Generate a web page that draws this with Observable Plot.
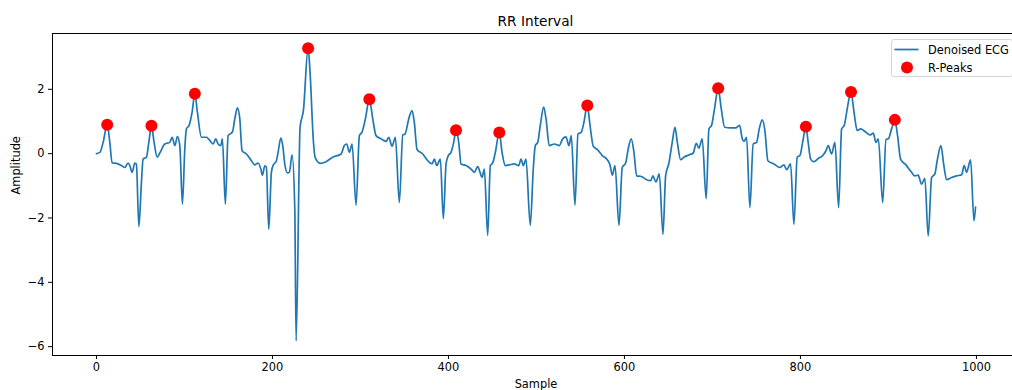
<!DOCTYPE html>
<html><head><meta charset="utf-8">
<script src="https://cdn.jsdelivr.net/npm/d3@7"></script>
<script src="https://cdn.jsdelivr.net/npm/@observablehq/plot@0.6"></script>
<style>
html,body{margin:0;padding:0;background:#fff;overflow:hidden;}
#wrap{position:relative;width:1020px;height:390px;font-family:"DejaVu Sans",sans-serif;color:#000;}
#title{height:28px;box-sizing:border-box;padding-top:13px;line-height:16px;padding-left:52px;padding-right:1px;text-align:center;font-size:13.7px;}
#legend{position:absolute;left:890.5px;top:39px;width:122px;height:38px;box-sizing:border-box;border:1px solid #d6d6d6;border-radius:3px;background:rgba(255,255,255,0.8);}
#legend svg{position:absolute;left:0;top:0;}
</style></head>
<body><div id="wrap"><div id="title">RR Interval</div><div id="chart"></div><div id="legend"></div></div>
<script>
const sample = [0,3.9,7.6,12.2,15.2,17.8,22.7,28.4,32.3,36,37.9,40.6,43.6,45.4,48.2,51.1,53,56.8,59.5,62.5,65.5,69,72,77.7,83.4,86,89.1,92,94.7,97.7,100.4,102.2,105.3,108.7,111.8,114.7,119.3,125,128.8,132.6,135.6,138.2,141.3,143.1,146.5,149.6,151.5,154.5,157.2,160.2,162.9,165.5,170.4,176.1,179.9,183.7,186.8,188.6,191.3,193.1,195.8,198.8,200.7,204.5,206.4,209.5,211.7,214,217,219.2,222.3,225.4,226.9,231.4,235.2,240.5,242.8,246.5,248.4,254.1,260.9,268.5,278,281.7,284.4,287.4,290.5,295,298.8,301.8,305.6,310.1,314,317.7,323.4,329.1,332.2,335.9,339.7,344.2,348.1,350.7,354.9,358.6,361.2,364.3,370.8,376.5,381.4,384,386.7,390.8,394.2,397.3,399.9,402.9,406,408.6,411.7,414.3,420,425.7,429.4,433.3,435.9,438.2,440.8,444.6,447.6,450.3,453.3,457.8,460.9,464.6,469.2,474.8,479.8,482.5,485.1,488.1,493,496.4,498.7,501.4,504.4,508.2,510.9,514.6,520.3,526,529.8,533.5,537,539.6,543.8,547.2,551,554,557.8,560.9,564.6,569.1,574.8,580.5,583.6,586.2,589.3,593.8,597.5,601.4,604.3,607.7,610.8,613.9,619.1,625.2,629.8,632.4,635.8,639.6,643.8,646.8,650.6,654.3,657.4,660.1,663.9,667.6,673.3,678.2,681.6,684.6,688.4,692.9,696,699,702.4,706.5,710,713.9,720.7,726.4,730.9,733.9,735.8,738.8,742.6,746.3,750.2,753.2,756.6,759.6,763,769.8,776.7,781.2,784.3,788.8,792.6,796.3,799.6,802.5,806.2,808.8,811.6,815.3,820.2,825.9,829,831.6,835.4,839.2,843.4,846.8,849.8,853.2,857.5,860.9,864.5,868.4,873.3,879,882.8,885.8,888.5,893.5,897.2,899.9,903.6,907.3,910.4,913.8,919.9,926.3,930.1,933.8,937.7,941.4,945.2,949.1,952.8,955.4,959.6,963,966.1,971.8,977.4,983.1,986.1,988.8,993.4,997.2,999];
const amplitude = [0,0.04,0.35,0.9,0.35,-0.29,-0.3,-0.37,-0.43,-0.29,-0.37,-0.58,-0.29,-0.33,-2.27,-0.9,-0.17,-0.11,0.35,0.87,0.35,-0.11,0.02,0.3,0.35,0.51,0.25,0.53,0.25,-1.57,0.15,0.77,0.88,1.29,1.86,1.29,0.51,0.51,0.41,0.3,0.46,0.3,0.25,0.46,-1.57,0.56,0.61,0.67,1.08,1.42,1.08,0.09,-0.01,-0.22,-0.35,-0.29,-0.48,-0.67,-0.38,-0.42,-2.35,-0.58,-0.37,-0.22,0.04,0.48,0.25,-0.32,-0.6,-0.58,-0.04,-1.73,-5.82,0.82,1.35,3.28,2.5,0.4,-0.11,-0.3,-0.25,-0.11,-0.01,0.25,0.3,0.04,0.3,-1.6,0.56,0.67,1.08,1.69,1.08,0.56,0.46,0.38,0.51,0.23,0.51,-1.52,0.58,0.61,1.08,1.34,0.98,0.13,-0.01,-0.22,-0.32,-0.17,-0.37,-0.17,-2.02,-0.32,-0.06,0.04,0.35,0.73,0.35,-0.32,-0.37,-0.48,-0.58,-0.4,-0.58,-0.74,-0.48,-2.54,-0.37,-0.29,0.04,0.66,0.04,-0.37,-0.35,-0.32,-0.37,-0.17,-0.37,-0.17,-2.23,-0.48,0.25,0.35,0.88,1.45,1.08,0.25,0.3,0.25,0.46,0.52,0.25,0.56,-1.6,0.61,0.67,0.98,1.5,0.88,0.23,0.13,-0.06,-0.19,-0.35,-0.67,-0.37,-2.23,-0.43,-0.29,0.15,0.46,0.04,-0.69,-0.71,-0.81,-0.84,-0.69,-0.88,-0.63,-2.51,-0.69,-0.29,0.35,0.82,0.35,-0.19,-0.11,-0.04,0.02,0.32,0.17,0.46,-1.4,0.77,0.88,1.4,2.03,1.4,0.82,0.8,0.8,0.88,0.46,0.38,0.51,-1.68,0.3,0.35,0.77,1.05,0.72,-0.22,-0.32,-0.43,-0.35,-0.5,-0.32,-2.2,-0.11,-0.05,0.35,0.84,0.35,-0.17,-0.25,-0.15,-0.04,0.09,0.25,-0.01,0.35,-1.68,0.77,0.88,1.4,1.92,1.29,0.72,0.77,0.69,0.58,0.64,0.35,0.46,-1.52,0.44,0.46,0.77,1.05,0.56,-0.17,-0.35,-0.58,-0.69,-0.67,-0.95,-0.77,-2.56,-0.74,-0.63,-0.22,0.25,-0.37,-0.81,-0.74,-0.69,-0.66,-0.37,-0.58,-0.19,-2.09,-1.66];
const peakSample = [12.2,62.5,111.8,240.5,310.1,408.6,457.8,557.8,706.5,806.2,857.5,907.3];
const peakAmplitude = [0.9,0.87,1.86,3.28,1.69,0.73,0.66,1.5,2.03,0.84,1.92,1.05];
const xTicks = [0,200,400,600,800,1000];
const yTicks = [-6,-4,-2,0,2];
const seriesNames = ["Denoised ECG","R-Peaks"];
const lineColor = "#1f77b4", peakColor = "#ff0000";

const ecg = sample.map((s,i)=>({s, a: amplitude[i]}));
const peaks = peakSample.map((s,i)=>({s, a: peakAmplitude[i]}));
const [x0,x1] = d3.extent(sample), [y0,y1] = d3.extent(amplitude);
const px = 0.05*(x1-x0), py = 0.05*(y1-y0);

const chart = Plot.plot({
  width: 1020, height: 362,
  marginTop: 5, marginBottom: 35, marginLeft: 52, marginRight: 1,
  style: {fontFamily: "'DejaVu Sans', sans-serif", fontSize: "11.4px", color: "#000", background: "#fff", overflow: "visible"},
  x: {domain: [x0-px, x1+px], label: null},
  y: {domain: [y0-py, y1+py], label: null},
  marks: [
    Plot.line(ecg, {x: "s", y: "a", stroke: lineColor, strokeWidth: 1.7, curve: "monotone-x"}),
    Plot.dot(peaks, {x: "s", y: "a", r: 6, fill: peakColor, stroke: "none"}),
    Plot.frame({stroke: "#000", strokeWidth: 1}),
    Plot.axisX({ticks: xTicks, tickSize: 4, tickPadding: 3, label: null, tickFormat: d3.format("d")}),
    Plot.axisY({ticks: yTicks, tickSize: 4, tickPadding: 4, label: null}),
    Plot.text(["Sample"], {frameAnchor: "bottom", dy: 32.5, fontSize: 11.4}),
    Plot.text(["Amplitude"], {frameAnchor: "left", dx: -36, rotate: -90, fontSize: 11.4})
  ]
});
document.getElementById("chart").appendChild(chart);

// legend
const ns = "http://www.w3.org/2000/svg";
const lg = document.createElementNS(ns, "svg");
lg.setAttribute("width", 122); lg.setAttribute("height", 38);
lg.innerHTML = `
  <line x1="2.5" x2="26.5" y1="9.5" y2="9.5" stroke="${lineColor}" stroke-width="1.7"/>
  <text x="36" y="9.5" dominant-baseline="central" font-family="'DejaVu Sans', sans-serif" font-size="11.4" fill="#000">${seriesNames[0]}</text>
  <circle cx="15" cy="27.5" r="6" fill="${peakColor}"/>
  <text x="36" y="27.5" dominant-baseline="central" font-family="'DejaVu Sans', sans-serif" font-size="11.4" fill="#000">${seriesNames[1]}</text>`;
document.getElementById("legend").appendChild(lg);
</script>
</body></html>
